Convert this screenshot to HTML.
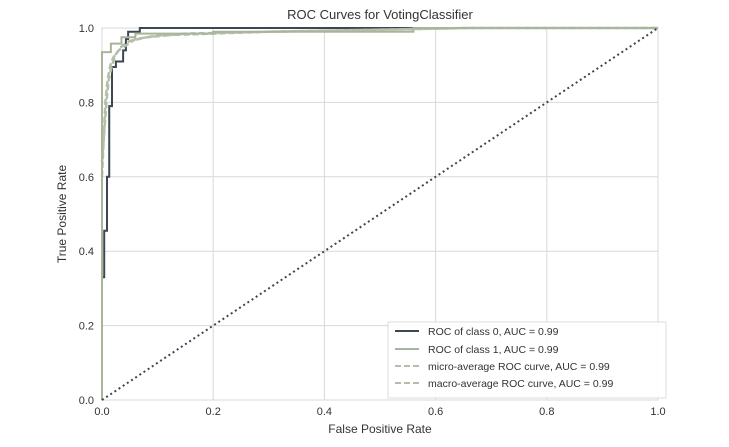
<!DOCTYPE html>
<html><head><meta charset="utf-8"><style>
body{margin:0;background:#fff;}
svg text{font-family:"Liberation Sans",sans-serif;fill:#333;}
</style></head><body>
<svg width="729" height="442">
<g id="grid"></g>
<rect x="102" y="28" width="556" height="372" fill="none" stroke="#d8d8d8"/>
<g id="curves"></g>
<g id="ticks"></g>
<text x="380" y="19" font-size="13" text-anchor="middle">ROC Curves for VotingClassifier</text>
<text x="380" y="433" font-size="12" text-anchor="middle">False Positive Rate</text>
<text x="66" y="214" font-size="12" text-anchor="middle" transform="rotate(-90 66 214)">True Positive Rate</text>
<g>
<rect x="388" y="322" width="278" height="76" fill="#fff" fill-opacity="0.9" stroke="#ddd"/>
<line x1="395" y1="331" x2="419" y2="331" stroke="#3d4753" stroke-width="2"/>
<text x="428" y="335" font-size="10.5">ROC of class 0, AUC = 0.99</text>
<line x1="395" y1="349" x2="419" y2="349" stroke="#a9b59a" stroke-width="2"/>
<text x="428" y="353" font-size="10.5">ROC of class 1, AUC = 0.99</text>
<line x1="395" y1="366" x2="419" y2="366" stroke="#b5bea9" stroke-width="2" stroke-dasharray="6,3"/>
<text x="428" y="370" font-size="10.5">micro-average ROC curve, AUC = 0.99</text>
<line x1="395" y1="383" x2="419" y2="383" stroke="#b5bea9" stroke-width="2" stroke-dasharray="6,3"/>
<text x="428" y="387" font-size="10.5">macro-average ROC curve, AUC = 0.99</text>
</g>
</svg>
<script>
const ticks=[0,0.2,0.4,0.6,0.8,1.0];
const tickLabels=["0.0","0.2","0.4","0.6","0.8","1.0"];
const class0Fpr=[0,0.004,0.004,0.009,0.009,0.013,0.013,0.018,0.018,0.025,0.025,0.038,0.038,0.043,0.043,0.047,0.047,0.068,0.068,1];
const class0Tpr=[0.33,0.33,0.455,0.455,0.6,0.6,0.79,0.79,0.895,0.895,0.91,0.91,0.94,0.94,0.97,0.97,0.99,0.99,1,1];
const class1Fpr=[0,0,0.016,0.016,0.035,0.035,0.06,0.06,0.2,0.2,0.56,0.56,1];
const class1Tpr=[0,0.935,0.935,0.958,0.958,0.975,0.975,0.985,0.985,0.99,0.99,1,1];
const microFpr=[0,0.003,0.006,0.01,0.015,0.02,0.03,0.04,0.06,0.1,0.2,0.3,0.66,1];
const microTpr=[0.6,0.7,0.8,0.86,0.9,0.92,0.94,0.95,0.97,0.98,0.985,0.99,1,1];
const macroFpr=[0,0.004,0.008,0.012,0.018,0.025,0.035,0.05,0.08,0.15,0.3,0.66,1];
const macroTpr=[0.64,0.72,0.8,0.86,0.9,0.93,0.95,0.965,0.975,0.985,0.99,1,1];
const X=v=>102+v*556, Y=v=>400-v*372;
const NS="http://www.w3.org/2000/svg";
const grid=document.getElementById('grid'),tk=document.getElementById('ticks'),cv=document.getElementById('curves');
ticks.forEach((t,i)=>{
 const gv=document.createElementNS(NS,'line');
 gv.setAttribute('x1',X(t));gv.setAttribute('x2',X(t));gv.setAttribute('y1',28);gv.setAttribute('y2',400);
 gv.setAttribute('stroke','#d8d8d8');
 
 
 grid.appendChild(gv);
 const gh=document.createElementNS(NS,'line');
 gh.setAttribute('x1',102);gh.setAttribute('x2',658);gh.setAttribute('y1',Y(t));gh.setAttribute('y2',Y(t));
 gh.setAttribute('stroke','#d8d8d8');
 
 
 grid.appendChild(gh);
 const tx=document.createElementNS(NS,'text');
 tx.setAttribute('x',X(t));tx.setAttribute('y',415);tx.setAttribute('font-size','11');tx.setAttribute('text-anchor','middle');
 tx.textContent=tickLabels[i];
 
 
 tk.appendChild(tx);
 const ty=document.createElementNS(NS,'text');
 ty.setAttribute('x',94);ty.setAttribute('y',Y(t)+4);ty.setAttribute('font-size','11');ty.setAttribute('text-anchor','end');
 ty.textContent=tickLabels[i];
 
 
 tk.appendChild(ty);
});
function line(xs,ys,color,w,dash,name){
 const p=document.createElementNS(NS,'polyline');
 p.setAttribute('points',xs.map((x,i)=>X(x)+','+Y(ys[i])).join(' '));
 p.setAttribute('fill','none');p.setAttribute('stroke',color);p.setAttribute('stroke-width',w);
 if(dash)p.setAttribute('stroke-dasharray',dash);
 
 
 cv.appendChild(p);
}
line(class0Fpr,class0Tpr,'#3d4753',2,null,'class0-curve');
line(microFpr,microTpr,'#b5bea9',2.5,'6,3','micro-average-curve');
line(macroFpr,macroTpr,'#b5bea9',2.5,'6,3','macro-average-curve');
line(class1Fpr,class1Tpr,'#a9b59a',2,null,'class1-curve');
line([0,1],[0,1],'#3d4753',2,'2,3','diagonal-reference');
</script>
</body></html>
